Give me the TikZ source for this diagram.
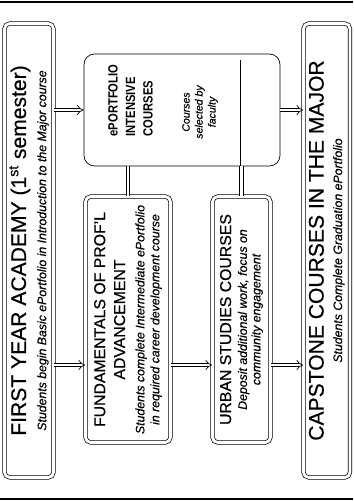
\documentclass[tikz,border=0pt]{standalone}
\usepackage{fontspec}
\setmainfont{Liberation Sans}[FakeBold=0.5]
\newfontfamily\NarrowFont{Liberation Sans}[FakeStretch=0.84]
\usepackage{tikz}
\usetikzlibrary{positioning}
\usetikzlibrary{calc,arrows.meta}

\newcommand{\TitleFont}{\fontsize{12}{14}\selectfont}
\newcommand{\MidFont}{\fontsize{9}{11}\selectfont}

\tikzset{
	flowbox/.style={draw, thin, double, double distance=1.6pt, rounded corners=3pt,
		rotate=90, align=center, inner sep=1pt, font=\fontsize{7}{8.5}\selectfont},
	dblarrow/.style={thin, double, double distance=1.6pt, -{Implies}},
	dbllink/.style={thin, double, double distance=1.6pt},
	rule/.style={line width=1.7pt},
}

\begin{document}
\begin{tikzpicture}

	% ------------------------------------------------
	% Ensure the dimensions of graphic are appropriate
	\useasboundingbox (0,0) rectangle (7.06cm,-10.02cm);

	\draw[rule] (0,-0.04cm) -- (7.06cm,-0.04cm);
	\draw[rule] (0,-9.98cm) -- (7.06cm,-9.98cm);

	% ------------------------------------------------
	% Relevant coordinates
	\coordinate (FYA) at (0.58cm,-5.01cm);

	\path (FYA) +(5.955cm,0.00cm)  coordinate (CAP);
	\path (FYA) +(3.06cm,2.81cm)   coordinate (EPI);
	\path (FYA) +(1.98cm,-1.38cm)  coordinate (FPA);
	\path (FPA) +(2.27cm,0.00cm)   coordinate (USC);
	\path (FYA) +(0.00cm,-2.29cm)  coordinate (ArrowRow);

	% ----------------
	% Boxes
	\node[flowbox, minimum width=9.08cm, minimum height=0.98cm] (FirstYear) at (FYA)
		{{\TitleFont FIRST YEAR ACADEMY (1\textsuperscript{st} semester)}\\[3pt]
		 \itshape Students begin Basic ePortfolio in Introduction to the Major course};

	\node[flowbox, minimum width=9.08cm, minimum height=0.93cm] (Capstone) at (CAP)
		{{\TitleFont CAPSTONE COURSES IN THE MAJOR}\\[2pt]
		 \itshape Students Complete Graduation ePortfolio};

	\node[draw, thin, rounded corners=6pt, minimum width=3.92cm, minimum height=2.24cm] (EPortfolio) at (EPI) {};

	\node[rotate=90, align=left, font=\NarrowFont\bfseries\fontsize{7.6}{10}\selectfont] (EPortfolioTitle)
		at ([xshift=-1.03cm,yshift=0.19cm]EPortfolio.center) {ePORTFOLIO\\INTENSIVE\\COURSES};
	\node[rotate=90, align=center, font=\itshape\fontsize{6}{7.4}\selectfont] (EPortfolioNote)
		at ([xshift=0.36cm,yshift=-0.04cm]EPortfolio.center) {Courses\\selected by\\faculty};

	\node[flowbox, minimum width=4.92cm, minimum height=1.70cm] (Fundamentals) at (FPA)
		{{\MidFont FUNDAMENTALS OF PROF'L}\\[2.8pt]
		 {\MidFont ADVANCEMENT}\\[2.5pt]
		 \itshape Students complete Intermediate ePortfolio\\
		 \itshape in required career development course};

	\node[flowbox, minimum width=4.92cm, minimum height=1.16cm] (UrbanStudies) at (USC)
		{{\MidFont URBAN STUDIES COURSES}\\[0.5pt]
		 \itshape Deposit additional work, focus on\\[-0.8pt]
		 \itshape community engagement};

	% ----------------
	% Inner edge of the ePortfolio box
	\draw[thin] ([xshift=-0.80cm]EPortfolio.south east) -- ([xshift=-0.80cm,yshift=-0.12cm]EPortfolio.north east);

	%%%%%%%%%%%%%%%%%%%%%%%%%%%%%%%%%%%%%%%%%
	% Connectors
	\draw[dblarrow] (FirstYear.south |- EPortfolio.west) -- (EPortfolio.west);
	\draw[dblarrow] (EPortfolio.east) -- (Capstone.north |- EPortfolio.east);

	\draw[dblarrow] (FirstYear.south |- ArrowRow) -- (Fundamentals.north |- ArrowRow);
	\draw[dblarrow] (Fundamentals.south |- ArrowRow) -- (UrbanStudies.north |- ArrowRow);
	\draw[dblarrow] (UrbanStudies.south |- ArrowRow) -- (Capstone.north |- ArrowRow);

	\draw[dbllink] (EPortfolio.south -| Fundamentals.east) -- (Fundamentals.east);
	\draw[dbllink] (EPortfolio.south -| UrbanStudies.east) -- (UrbanStudies.east);

\end{tikzpicture}
\end{document}
